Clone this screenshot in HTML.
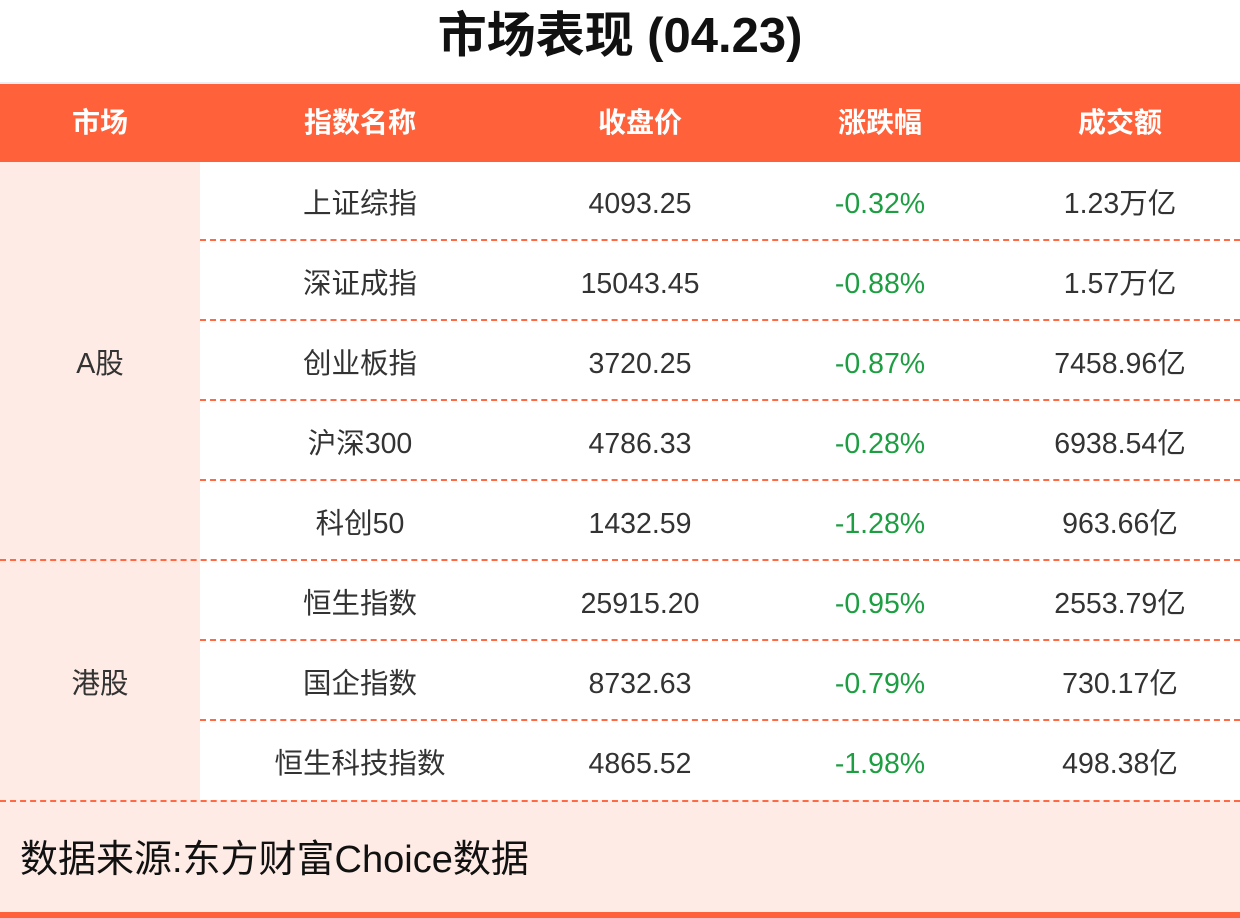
<!DOCTYPE html>
<html><head><meta charset="utf-8"><style>
body{margin:0;width:1240px;height:918px;background:#fff;font-family:"Liberation Sans","Noto Sans CJK SC",sans-serif;position:relative;overflow:hidden}
.a{position:absolute;text-align:center;white-space:nowrap}
.t{left:0;width:1240px;top:6px;height:60px;line-height:60px;font-size:49px;font-weight:bold;color:#111}
.hd{position:absolute;left:0;top:82px;width:1240px;height:78px;background:#FF623A;border-top:2px solid #eceef3}
.h{top:84px;height:78px;line-height:78px;font-size:28px;font-weight:bold;color:#fff}
.pink{position:absolute;background:#FFEBE5}
.c{height:80px;line-height:80px;font-size:28.5px;color:#333}
.g{color:#1E9E42}
.d{position:absolute;height:0;border-top:2px dashed #FF6A45}
</style></head><body>
<div class="a t">市场表现 (04.23)</div>
<div class="hd"></div>
<div class="a h" style="left:0;width:200px">市场</div>
<div class="a h" style="left:200px;width:320px">指数名称</div>
<div class="a h" style="left:520px;width:240px">收盘价</div>
<div class="a h" style="left:760px;width:240px">涨跌幅</div>
<div class="a h" style="left:1000px;width:240px">成交额</div>
<div class="pink" style="left:0;top:162px;width:200px;height:638px"></div>
<div class="pink" style="left:0;top:800px;width:1240px;height:112px"></div>
<div style="position:absolute;left:0;top:912px;width:1240px;height:6px;background:#FF623A"></div>
<div class="a c" style="left:0;top:324px;width:200px">A股</div>
<div class="a c" style="left:0;top:644px;width:200px">港股</div>
<div class="d" style="left:200px;top:239px;width:1040px"></div>
<div class="d" style="left:200px;top:319px;width:1040px"></div>
<div class="d" style="left:200px;top:399px;width:1040px"></div>
<div class="d" style="left:200px;top:479px;width:1040px"></div>
<div class="d" style="left:0;top:559px;width:1240px"></div>
<div class="d" style="left:200px;top:639px;width:1040px"></div>
<div class="d" style="left:200px;top:719px;width:1040px"></div>
<div class="d" style="left:0;top:800px;width:1240px"></div>
<div class="a" style="left:20px;top:830px;height:60px;line-height:60px;font-size:38px;color:#111">数据来源:东方财富Choice数据</div>

<div class="a c" style="left:200px;top:164px;width:320px">上证综指</div><div class="a c" style="left:520px;top:164px;width:240px">4093.25</div><div class="a c g" style="left:760px;top:164px;width:240px">-0.32%</div><div class="a c" style="left:1000px;top:164px;width:240px">1.23万亿</div>
<div class="a c" style="left:200px;top:244px;width:320px">深证成指</div><div class="a c" style="left:520px;top:244px;width:240px">15043.45</div><div class="a c g" style="left:760px;top:244px;width:240px">-0.88%</div><div class="a c" style="left:1000px;top:244px;width:240px">1.57万亿</div>
<div class="a c" style="left:200px;top:324px;width:320px">创业板指</div><div class="a c" style="left:520px;top:324px;width:240px">3720.25</div><div class="a c g" style="left:760px;top:324px;width:240px">-0.87%</div><div class="a c" style="left:1000px;top:324px;width:240px">7458.96亿</div>
<div class="a c" style="left:200px;top:404px;width:320px">沪深300</div><div class="a c" style="left:520px;top:404px;width:240px">4786.33</div><div class="a c g" style="left:760px;top:404px;width:240px">-0.28%</div><div class="a c" style="left:1000px;top:404px;width:240px">6938.54亿</div>
<div class="a c" style="left:200px;top:484px;width:320px">科创50</div><div class="a c" style="left:520px;top:484px;width:240px">1432.59</div><div class="a c g" style="left:760px;top:484px;width:240px">-1.28%</div><div class="a c" style="left:1000px;top:484px;width:240px">963.66亿</div>
<div class="a c" style="left:200px;top:564px;width:320px">恒生指数</div><div class="a c" style="left:520px;top:564px;width:240px">25915.20</div><div class="a c g" style="left:760px;top:564px;width:240px">-0.95%</div><div class="a c" style="left:1000px;top:564px;width:240px">2553.79亿</div>
<div class="a c" style="left:200px;top:644px;width:320px">国企指数</div><div class="a c" style="left:520px;top:644px;width:240px">8732.63</div><div class="a c g" style="left:760px;top:644px;width:240px">-0.79%</div><div class="a c" style="left:1000px;top:644px;width:240px">730.17亿</div>
<div class="a c" style="left:200px;top:724px;width:320px">恒生科技指数</div><div class="a c" style="left:520px;top:724px;width:240px">4865.52</div><div class="a c g" style="left:760px;top:724px;width:240px">-1.98%</div><div class="a c" style="left:1000px;top:724px;width:240px">498.38亿</div>
</body></html>
